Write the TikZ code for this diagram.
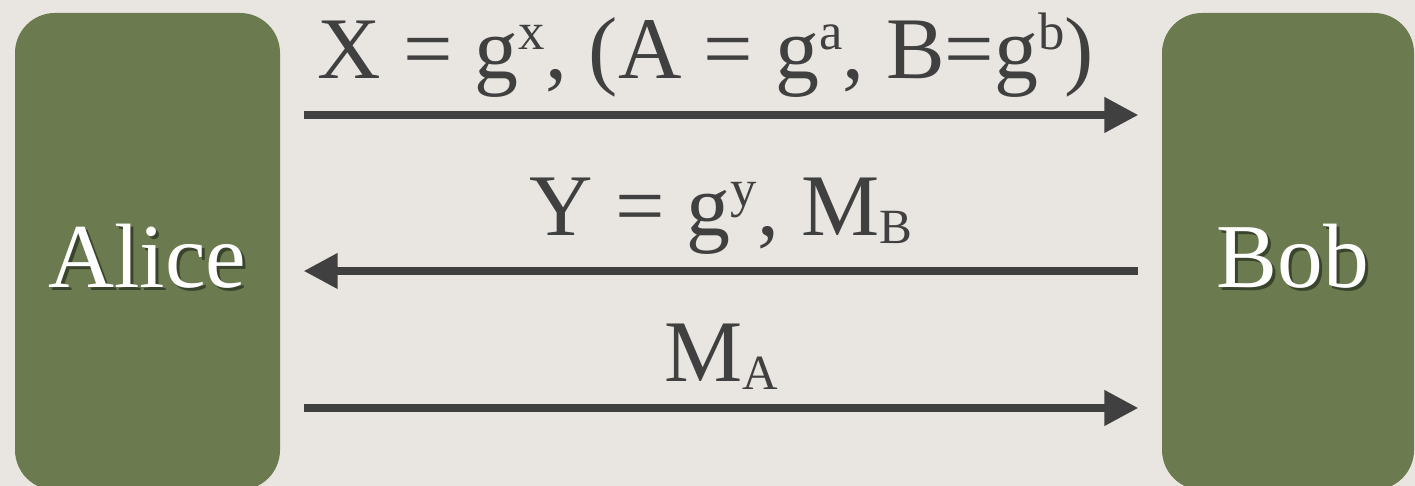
\documentclass[tikz,border=0pt]{standalone}
\usepackage{fontspec}
\setmainfont{Liberation Serif}
\usetikzlibrary{arrows.meta}
\definecolor{paper}{HTML}{E9E6E1}
\definecolor{moss}{HTML}{6B7B4F}
\definecolor{ink}{HTML}{404040}
\newcommand{\supx}[1]{\raisebox{0.33em}{\fontsize{15}{15}\selectfont #1}}
\newcommand{\subx}[1]{\raisebox{-0.09em}{\fontsize{14}{14}\selectfont #1}}
\begin{document}
\begin{tikzpicture}[>={Triangle[length=0.34cm, width=0.34cm]},
  party/.style={fill=moss, rounded corners=0.4cm, inner sep=0pt,
    minimum height=4.77cm},
  whoname/.style={text=white, font=\fontsize{26}{30}\selectfont},
  whoshade/.style={text=black, opacity=0.45, font=\fontsize{26}{30}\selectfont},
  msg/.style={->, draw=ink, line width=0.075cm, shorten <=0.23cm, shorten >=0.23cm},
  lbl/.style={text=ink, font=\fontsize{25}{30}\selectfont, anchor=base, inner sep=0pt}]
  % Background
  \fill[paper] (0,0) rectangle (14.15,4.86);
  \useasboundingbox (0,0) rectangle (14.15,4.86);

  % Parties
  \node[party, minimum width=2.65cm] (alice) at (1.475,2.345) {};
  \node[party, minimum width=2.52cm] (bob) at (12.88,2.345) {};
  \node[whoshade] at ([shift={(0.03,-0.08)}]alice.center) {Alice};
  \node[whoname] at ([yshift=-0.05cm]alice.center) {Alice};
  \node[whoshade] at ([shift={(0.08,-0.08)}]bob.center) {Bob};
  \node[whoname] at ([shift={(0.05,-0.05)}]bob.center) {Bob};

  % Messages
  \draw[msg] ([yshift=1.365cm]alice.east) -- ([yshift=1.365cm]bob.west)
    node[lbl, midway, yshift=0.36cm, xshift=-0.15cm]
    {X = g\supx{x}, (A = g\supx{a}, B=g\supx{b})};
  \draw[msg] ([yshift=-0.195cm]bob.west) -- ([yshift=-0.195cm]alice.east)
    node[lbl, midway, yshift=0.35cm] {Y = g\supx{y}, M\subx{B}};
  \draw[msg] ([yshift=-1.565cm]alice.east) -- ([yshift=-1.565cm]bob.west)
    node[lbl, midway, yshift=0.26cm] {M\subx{A}};
\end{tikzpicture}
\end{document}
